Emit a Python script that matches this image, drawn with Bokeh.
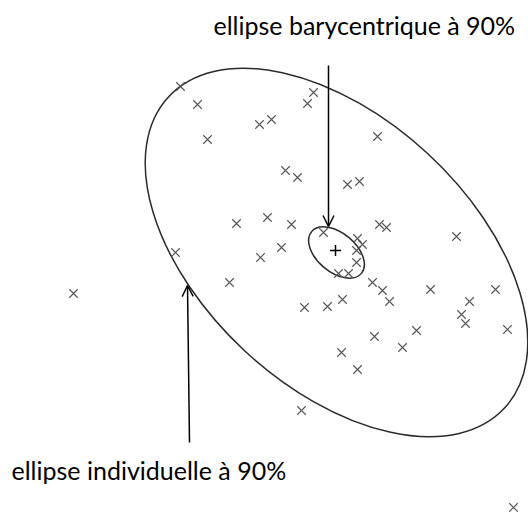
from bokeh.plotting import figure
from bokeh.models import Range1d, Arrow, OpenHead, ColumnDataSource
from bokeh.core.properties import value
from bokeh.embed import file_html
from bokeh.resources import INLINE
import math

obs_x = [180, 197, 207, 259, 271, 307, 313, 377, 285, 297, 347, 359, 236, 267, 291, 281,
         260, 229, 175, 73, 323, 357, 362, 356, 379, 386, 456, 356, 338, 348, 372, 382,
         389, 430, 495, 469, 461, 465, 507, 304, 327, 342, 416, 374, 402, 341, 357, 301, 513]
obs_y_page = [86, 104, 139, 124, 119, 103, 92, 136, 170, 177, 184, 181, 223, 217, 224, 247,
              257, 282, 252, 293, 232, 238, 244, 250, 224, 227, 236, 262, 273, 273, 282, 290,
              301, 289, 289, 301, 314, 323, 329, 307, 306, 299, 330, 336, 347, 352, 369, 410, 507]
obs_y = [512 - v for v in obs_y_page]

# barycentre
bary_x = [335]
bary_y = [512 - 250]

# ellipses: individual 90% and barycentric 90%
ell_names = ["individuelle", "barycentrique"]
ell_cx = [336, 336]
ell_cy = [512 - 252, 512 - 252]
ell_w = [458, 65]
ell_h = [269, 39]
ell_angle_deg = [-42.8, -40.0]

# annotation labels
label_text = ["ellipse barycentrique à 90%", "ellipse individuelle à 90%"]
label_x = [213, 11]
label_y = [512 - 24, 512 - 469]

# arrows (start -> end)
arrow_x0 = [328, 189]
arrow_y0 = [512 - 65, 512 - 442]
arrow_x1 = [328, 187]
arrow_y1 = [512 - 226, 512 - 285]

W, H = 528, 512
p = figure(width=W, height=H, output_backend="svg", toolbar_location=None,
           x_range=Range1d(0, W), y_range=Range1d(512 - H, 512),
           min_border=0, outline_line_color=None)
p.axis.visible = False
p.grid.visible = False
p.background_fill_color = "white"
p.border_fill_color = "white"

p.ellipse(x=ell_cx, y=ell_cy, width=ell_w, height=ell_h,
          angle=[math.radians(a) for a in ell_angle_deg],
          fill_color=None, line_color="#2b2b2b", line_width=1.5)

p.scatter(x=obs_x, y=obs_y, marker="x", size=12, line_color="#555555", line_width=1.1)
p.scatter(x=bary_x, y=bary_y, marker="cross", size=11, line_color="black", line_width=1.5)

asrc = ColumnDataSource(dict(x0=arrow_x0, y0=arrow_y0, x1=arrow_x1, y1=arrow_y1))
p.add_layout(Arrow(end=OpenHead(size=11, line_width=1.5, line_color="black"),
                   x_start="x0", y_start="y0", x_end="x1", y_end="y1",
                   line_width=1.5, line_color="black", source=asrc))

p.text(x=label_x, y=label_y, text=label_text, text_font=value("Lato"),
       text_font_size="25px", text_baseline="alphabetic", text_align="left",
       text_color="black")

open("out.html", "w").write(file_html(p, INLINE))
